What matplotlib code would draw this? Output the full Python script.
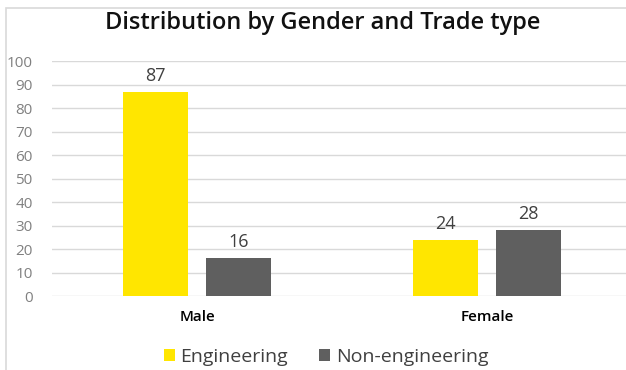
import matplotlib.pyplot as plt
import numpy as np
from matplotlib.patches import Rectangle

# 数据
genders = ["Male", "Female"]
engineering = [87, 24]
non_engineering = [16, 28]
yticks = [0, 10, 20, 30, 40, 50, 60, 70, 80, 90, 100]

plt.rcParams["font.family"] = ["Open Sans", "DejaVu Sans"]

W, H = 626, 370
fig = plt.figure(figsize=(W / 100, H / 100), dpi=100)

# 外框（右侧和底部被裁掉）
fig.patches.append(
    Rectangle((6 / W, -0.1), 1.1, 1 - 8 / H + 0.1, transform=fig.transFigure,
              fill=False, edgecolor="#d9d9d9", linewidth=1.2)
)

ax = fig.add_axes([52 / W, 1 - 296 / H, (626 - 52) / W, (296 - 61) / H])

x = np.arange(len(genders))
width = 0.226
offset = 0.143
b1 = ax.bar(x - offset, engineering, width, color="#FFE600", label="Engineering")
b2 = ax.bar(x + offset, non_engineering, width, color="#5f5f5f", label="Non-engineering")

for bars in (b1, b2):
    for rect in bars:
        ax.text(rect.get_x() + rect.get_width() / 2, rect.get_height() + 3,
                f"{rect.get_height():.0f}", ha="center", va="bottom",
                fontsize=13, color="#404040")

ax.set_xlim(-0.5, 1.479)
ax.set_ylim(0, 100)
ax.set_yticks(yticks)
ax.set_yticklabels([str(t) for t in yticks], fontsize=11, color="#808080")
ax.set_xticks(x)
ax.set_xticklabels(genders, fontsize=11, color="#000000", fontweight="semibold")
ax.tick_params(axis="both", length=0)
ax.tick_params(axis="y", pad=14)
ax.tick_params(axis="x", pad=10)
ax.grid(axis="y", color="#d9d9d9", linewidth=1)
ax.set_axisbelow(True)
for s in ax.spines.values():
    s.set_visible(False)

fig.text(323 / W, 1 - 23 / H, "Distribution by Gender and Trade type",
         ha="center", va="center", fontsize=17, fontweight="semibold", color="#111111")

fig.legend(handles=[b1, b2], loc="center", bbox_to_anchor=(326 / W, 1 - 357 / H),
           ncol=2, frameon=False, fontsize=14, handlelength=0.55, handleheight=0.55,
           handletextpad=0.3, columnspacing=1.6, labelcolor="#404040")

fig.savefig("out.png", dpi=100)
